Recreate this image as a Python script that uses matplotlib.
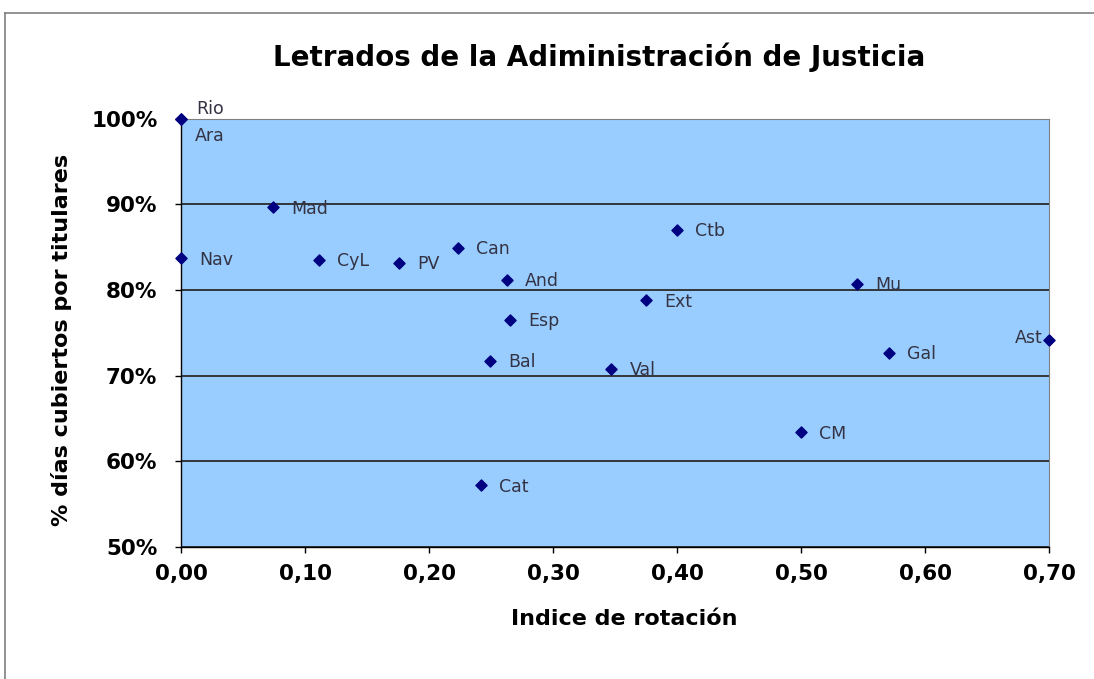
import matplotlib
matplotlib.use("Agg")
import matplotlib.pyplot as plt
from matplotlib.lines import Line2D
from matplotlib.ticker import FuncFormatter, MultipleLocator

names = ["Rio", "Ara", "Mad", "Nav", "CyL", "PV", "Can", "And", "Esp", "Bal",
         "Val", "Cat", "Ctb", "Ext", "Mu", "Gal", "Ast", "CM"]
rotation = [0.000, 0.000, 0.074, 0.000, 0.111, 0.176, 0.223, 0.263, 0.265, 0.249,
            0.347, 0.242, 0.400, 0.375, 0.545, 0.571, 0.700, 0.500]
coverage = [1.000, 0.999, 0.8965, 0.837, 0.835, 0.832, 0.849, 0.812, 0.765, 0.717,
            0.708, 0.572, 0.870, 0.788, 0.807, 0.727, 0.742, 0.634]

label_pos = {"Rio": (11, 7), "Ara": (10, -12), "Ast": (-5, 1)}

plt.rcParams['font.family'] = ['DejaVu Sans']
fig = plt.figure(figsize=(10.94, 6.79), dpi=100)
fig.patch.set_facecolor("white")
ax = fig.add_axes([0.1654, 0.1944, 0.7939, 0.6309])
ax.set_facecolor("#99CCFF")

ax.set_xlim(0, 0.70)
ax.set_ylim(0.5, 1.0)
ax.yaxis.set_major_locator(MultipleLocator(0.1))
ax.xaxis.set_major_locator(MultipleLocator(0.1))
ax.yaxis.set_major_formatter(FuncFormatter(lambda v, p: f"{v*100:.0f}%"))
ax.xaxis.set_major_formatter(FuncFormatter(lambda v, p: f"{v:.2f}".replace(".", ",")))
ax.grid(axis="y", color="#2b2b2b", linewidth=1.3)
ax.set_axisbelow(True)

ax.scatter(rotation, coverage, marker="D", s=32, color="#000080", zorder=3, clip_on=False)
for n, x, y in zip(names, rotation, coverage):
    dx, dy = label_pos.get(n, (13, -1))
    ha = "right" if n == "Ast" else "left"
    ax.annotate(n, (x, y), xytext=(dx, dy), textcoords="offset points",
                ha=ha, va="center", fontsize=12.5, color="#333344",
                annotation_clip=False)

for s in ["top", "right"]:
    ax.spines[s].set_color("#808080")
for s in ["left", "bottom"]:
    ax.spines[s].set_color("#000000")
    ax.spines[s].set_linewidth(1.0)
ax.tick_params(axis="both", direction="out", length=4, width=1, labelsize=15.5)
for lbl in ax.get_xticklabels() + ax.get_yticklabels():
    lbl.set_fontweight("bold")
ax.tick_params(axis="x", pad=8)
ax.tick_params(axis="y", pad=13)

ax.set_xlabel("Indice de rotación", fontsize=16, fontweight="bold", va="center")
ax.xaxis.set_label_coords(0.510, -0.168)
ax.set_ylabel("% días cubiertos por titulares", fontsize=16, fontweight="bold", va="center")
ax.yaxis.set_label_coords(-0.138, 0.483)
fig.text(0.548, 0.916, "Letrados de la Adiministración de Justicia", ha="center",
         va="center", fontsize=20, fontweight="bold")

fig.add_artist(Line2D([0.0046, 1.0], [0.981, 0.981], transform=fig.transFigure,
                      color="#808080", linewidth=1.2))
fig.add_artist(Line2D([0.0046, 0.0046], [0.0, 0.981], transform=fig.transFigure,
                      color="#808080", linewidth=1.2))

fig.savefig("out.png", dpi=100)
